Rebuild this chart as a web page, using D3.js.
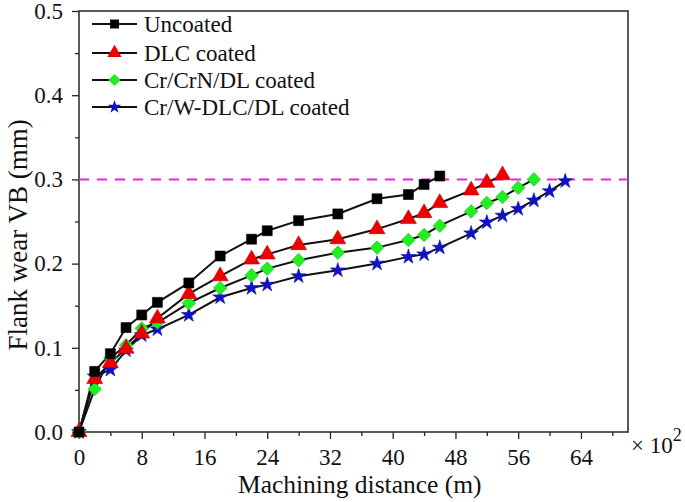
<!DOCTYPE html>
<html>
<head>
<meta charset="utf-8">
<script src="https://cdn.jsdelivr.net/npm/d3@7"></script>
<style>
  body { margin: 0; background: #fff; }
  text { font-family: "Liberation Serif", "Times New Roman", serif; fill: #111; }
</style>
</head>
<body>
<script>
// Series data (x in 10^2 m, y in mm)
const seriesNames = ["Uncoated", "DLC coated", "Cr/CrN/DL coated", "Cr/W-DLC/DL coated"];

const xUncoated = [0, 2, 4, 6, 8, 10, 14, 18, 22, 24, 28, 33, 38, 42, 44, 46];
const yUncoated = [0, 0.072, 0.093, 0.124, 0.139, 0.154, 0.177, 0.209, 0.229, 0.239, 0.251, 0.259, 0.277, 0.282, 0.294, 0.304];

const xDLC = [0, 2, 4, 6, 8, 10, 14, 18, 22, 24, 28, 33, 38, 42, 44, 46, 50, 52, 54];
const yDLC = [0, 0.063, 0.082, 0.099, 0.117, 0.135, 0.164, 0.185, 0.205, 0.211, 0.222, 0.229, 0.241, 0.253, 0.26, 0.272, 0.287, 0.296, 0.305];

const xCrN = [0, 2, 4, 6, 8, 10, 14, 18, 22, 24, 28, 33, 38, 42, 44, 46, 50, 52, 54, 56, 58];
const yCrN = [0, 0.051, 0.088, 0.103, 0.123, 0.130, 0.153, 0.171, 0.186, 0.194, 0.204, 0.213, 0.219, 0.228, 0.234, 0.245, 0.262, 0.272, 0.279, 0.290, 0.300];

const xWDLC = [0, 2, 4, 6, 8, 10, 14, 18, 22, 24, 28, 33, 38, 42, 44, 46, 50, 52, 54, 56, 58, 60, 62];
const yWDLC = [0, 0.066, 0.074, 0.097, 0.115, 0.122, 0.139, 0.160, 0.171, 0.175, 0.185, 0.192, 0.200, 0.208, 0.211, 0.219, 0.236, 0.249, 0.257, 0.265, 0.275, 0.286, 0.298];

const xTicks = [0, 8, 16, 24, 32, 40, 48, 56, 64];
const yTicks = [0, 0.1, 0.2, 0.3, 0.4, 0.5];
const wearLimit = 0.3;

// Chart dimensions
const W = 685, H = 502;
const margin = { top: 11, right: 57, bottom: 70, left: 79 };
const width = W - margin.left - margin.right;
const height = H - margin.top - margin.bottom;

const svg = d3.select("body").append("svg")
    .attr("width", W)
    .attr("height", H);

const g = svg.append("g")
    .attr("transform", "translate(" + margin.left + "," + margin.top + ")");

const x = d3.scaleLinear().domain([0, 70]).range([0, width]);
const y = d3.scaleLinear().domain([0, 0.5]).range([height, 0]);

// Minor ticks
const xMinor = d3.range(4, 70, 8);
const yMinor = d3.range(0.05, 0.5, 0.1);

g.append("g")
    .attr("transform", "translate(0," + height + ")")
    .call(d3.axisBottom(x).tickValues(xMinor).tickSize(4).tickFormat(""))
    .call(a => a.select(".domain").remove());
g.append("g")
    .call(d3.axisLeft(y).tickValues(yMinor).tickSize(4).tickFormat(""))
    .call(a => a.select(".domain").remove());

// Major axes
const xAxis = g.append("g")
    .attr("transform", "translate(0," + height + ")")
    .call(d3.axisBottom(x).tickValues(xTicks).tickSize(7).tickPadding(10).tickFormat(d3.format("d")));
const yAxis = g.append("g")
    .call(d3.axisLeft(y).tickValues(yTicks).tickSize(7).tickPadding(9).tickFormat(d3.format(".1f")));

[xAxis, yAxis].forEach(a => {
    a.selectAll("text").style("font-size", "23px").style("font-family", "'Liberation Serif', serif").attr("fill", "#111");
    a.select(".domain").remove();
});
g.selectAll(".tick line").attr("stroke", "#222").attr("stroke-width", 1.3);

// Frame
g.append("rect")
    .attr("width", width).attr("height", height)
    .attr("fill", "none").attr("stroke", "#333").attr("stroke-width", 1.6);

// Wear criterion dashed line
g.append("line")
    .attr("x1", 0).attr("x2", width)
    .attr("y1", y(wearLimit)).attr("y2", y(wearLimit))
    .attr("stroke", "#ee22dd").attr("stroke-width", 2)
    .attr("stroke-dasharray", "10,8");

// Series
const series = [
    { name: seriesNames[0], xs: xUncoated, ys: yUncoated, color: "#000000", shape: d3.symbolSquare, size: 100, rot: 0 },
    { name: seriesNames[1], xs: xDLC, ys: yDLC, color: "#ee0000", shape: d3.symbolTriangle, size: 110, rot: 0 },
    { name: seriesNames[2], xs: xCrN, ys: yCrN, color: "#22ee22", shape: d3.symbolSquare, size: 92, rot: 45 },
    { name: seriesNames[3], xs: xWDLC, ys: yWDLC, color: "#1111cc", shape: d3.symbolStar, size: 68, rot: 0 }
];

const line = d3.line()
    .x(d => x(d[0]))
    .y(d => y(d[1]));

series.forEach(s => {
    const pts = s.xs.map((v, i) => [v, s.ys[i]]);
    g.append("path")
        .datum(pts)
        .attr("fill", "none")
        .attr("stroke", "#111")
        .attr("stroke-width", 2)
        .attr("d", line);
    s.pts = pts;
});

series.slice().reverse().forEach(s => {
    g.selectAll(null)
        .data(s.pts)
        .enter().append("path")
        .attr("transform", d => "translate(" + x(d[0]) + "," + y(d[1]) + ") rotate(" + s.rot + ")")
        .attr("d", d3.symbol().type(s.shape).size(s.size))
        .attr("fill", s.color)
        .attr("stroke", s.color === "#000000" ? "#000" : d3.color(s.color).darker(0.6))
        .attr("stroke-width", 0.6);
});

// Legend
const legendY = [24, 53, 80, 107];
const legend = svg.append("g");
series.forEach((s, i) => {
    const row = legend.append("g").attr("transform", "translate(0," + legendY[i] + ")");
    row.append("line")
        .attr("x1", 92).attr("x2", 137)
        .attr("stroke", "#111").attr("stroke-width", 2);
    row.append("path")
        .attr("transform", "translate(114.5,0) rotate(" + s.rot + ")")
        .attr("d", d3.symbol().type(s.shape).size(s.size * 0.8))
        .attr("fill", s.color);
    row.append("text")
        .attr("x", 144).attr("y", 7.5)
        .style("font-size", "23px")
        .text(s.name);
});

// Axis titles
svg.append("text")
    .attr("x", margin.left + x(35.8)).attr("y", 493)
    .attr("text-anchor", "middle")
    .style("font-size", "25.5px")
    .text("Machining distance (m)");

svg.append("text")
    .attr("transform", "translate(27," + (margin.top + y(0.234)) + ") rotate(-90)")
    .attr("text-anchor", "middle")
    .style("font-size", "27px")
    .text("Flank wear VB (mm)");

// Scale factor
const factor = svg.append("text")
    .attr("x", 631).attr("y", 453)
    .style("font-size", "23px");
factor.append("tspan").text("\u00d7 10");
factor.append("tspan").attr("dy", -12).style("font-size", "18px").text("2");
</script>
</body>
</html>
